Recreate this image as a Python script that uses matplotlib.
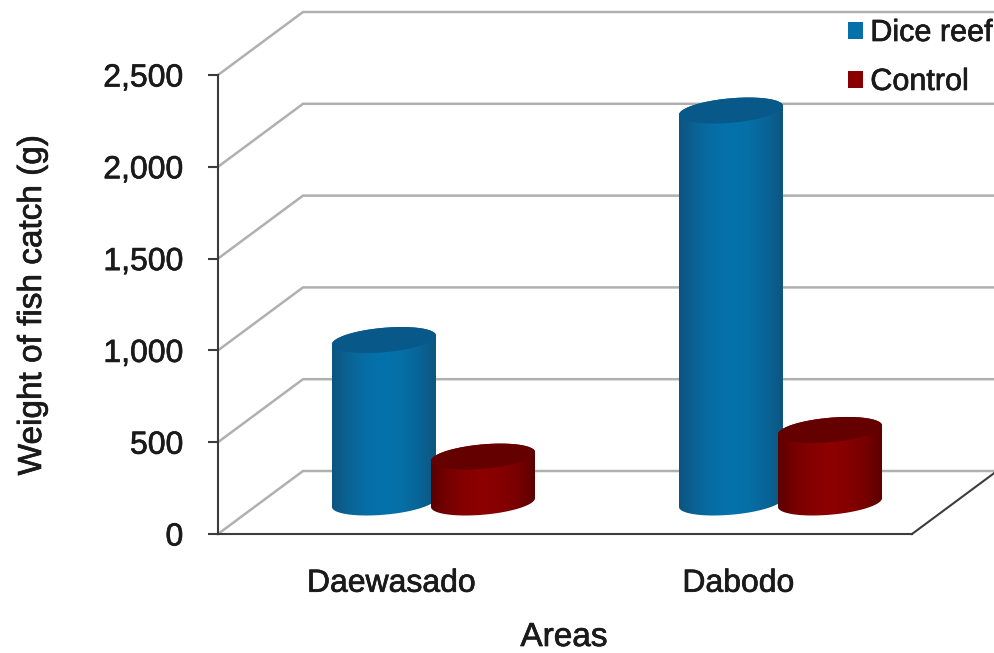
import matplotlib
matplotlib.use('Agg')
import matplotlib.pyplot as plt
import matplotlib.patheffects as pe
import numpy as np
from matplotlib.patches import Patch, Polygon
from matplotlib.ticker import FuncFormatter

areas = ['Daewasado', 'Dabodo']
dice_reef = [885, 2135]
control = [250, 395]
y_ticks = [0, 500, 1000, 1500, 2000, 2500]

# layout in pixels of the 995x653 canvas
W, H = 995, 653
X0, CAT_W = 218, 347
Y0, PX_PER_UNIT = 534, 0.1836
DEPTH_X, DEPTH_Y = 85, 63

plt.rcParams['font.family'] = ['Liberation Sans', 'DejaVu Sans']

fig = plt.figure(figsize=(W / 100, H / 100), dpi=100)
ax = fig.add_axes([0, 0, 1, 1])


def px_x(n):
    return n / CAT_W


def px_y(n):
    return n / PX_PER_UNIT


def ellipse(cx, cy, t):
    # circle on the oblique floor plane
    a, dz = 49, 13
    x = cx + px_x(a * np.cos(t) + dz * DEPTH_X / DEPTH_Y * np.sin(t))
    y = cy + px_y(dz * np.sin(t))
    return x, y


def cylinder(cx, value, side_colors, top_color):
    base = px_y(DEPTH_Y / 2)
    half = px_x(52)

    # left and right silhouette points of the ellipse
    t_edge = np.arctan2(13 * DEPTH_X / DEPTH_Y, 49)
    t_low = np.linspace(t_edge + np.pi, t_edge + 2 * np.pi, 60)
    t_up = np.linspace(t_edge, t_edge + np.pi, 60)
    xb, yb = ellipse(cx, base, t_low)
    xt, yt = ellipse(cx, base + value, t_up)
    side = Polygon(np.column_stack([np.r_[xb, xt], np.r_[yb, yt]]),
                   closed=True, facecolor='none', edgecolor='none')
    ax.add_patch(side)

    # horizontal shading across the curved side
    cmap = matplotlib.colors.LinearSegmentedColormap.from_list('shade', side_colors)
    grad = np.linspace(0, 1, 256).reshape(1, -1)
    im = ax.imshow(grad, cmap=cmap, aspect='auto', zorder=3,
                   extent=[cx - half, cx + half, base - px_y(20), base + value + px_y(20)])
    im.set_clip_path(side)

    xc, yc = ellipse(cx, base + value, np.linspace(0, 2 * np.pi, 120))
    ax.fill(xc, yc, color=top_color, lw=0, zorder=4)


# back wall and side wall gridlines
for v in y_ticks:
    ax.plot([0, px_x(DEPTH_X), 2 + px_x(DEPTH_X)],
            [v, v + px_y(DEPTH_Y), v + px_y(DEPTH_Y)],
            color='#b0b0b0', lw=1.8, zorder=1, solid_joinstyle='miter')

# front right edge of the floor
ax.plot([2, 2 + px_x(DEPTH_X)], [0, px_y(DEPTH_Y)], color='#3c3c3c', lw=1.5, zorder=2)

blue_side = ['#0d5480', '#0a6496', '#066ea6', '#0572ab', '#066fa6', '#086598', '#0d567f']
red_side = ['#5a0000', '#780000', '#860000', '#8e0000', '#860000', '#780000', '#5c0000']
bar_offset = (px_x(384 - X0) - 0.5, px_x(483 - X0) - 0.5)

for i in range(len(areas)):
    cylinder(i + 0.5 + bar_offset[0], dice_reef[i], blue_side, '#08588a')
    cylinder(i + 0.5 + bar_offset[1], control[i], red_side, '#650000')

ax.set_xlim(-X0 / CAT_W, (W - X0) / CAT_W)
ax.set_ylim(-(H - Y0) / PX_PER_UNIT, Y0 / PX_PER_UNIT)

for name in ['top', 'right']:
    ax.spines[name].set_visible(False)
ax.patch.set_visible(False)
ax.spines['left'].set_position(('data', 0))
ax.spines['left'].set_bounds(0, 2500)
ax.spines['bottom'].set_position(('data', 0))
ax.spines['bottom'].set_bounds(0, 2)
for name in ['left', 'bottom']:
    ax.spines[name].set_color('#3c3c3c')
    ax.spines[name].set_linewidth(1.5)

ax.set_yticks(y_ticks)
ax.yaxis.set_major_formatter(FuncFormatter(lambda v, p: f'{int(v):,}'))
ax.tick_params(axis='y', length=7, width=1.5, color='#3c3c3c', pad=18,
               labelsize=23, labelcolor='#1a1a1a')
ax.set_xticks([0.5, 1.5])
ax.set_xticklabels(areas)
ax.tick_params(axis='x', length=0, pad=25, labelsize=23, labelcolor='#1a1a1a')

ax.set_xlabel('Areas', fontsize=24, color='#1a1a1a')
ax.xaxis.set_label_coords(564 / W, 1 - 622 / H)
ax.set_ylabel('Weight of fish catch (g)', fontsize=24, color='#1a1a1a')
ax.yaxis.set_label_coords(48 / W, 1 - 305 / H)

handles = [Patch(facecolor='#0570aa', label='Dice reef'),
           Patch(facecolor='#8a0000', label='Control')]
legend = ax.legend(handles=handles, loc='upper left', bbox_to_anchor=(848 / W, 1 - 18 / H),
                   frameon=False, fontsize=22, handlelength=0.48, handleheight=0.48,
                   handletextpad=0.25, labelspacing=0.62, borderpad=0, borderaxespad=0,
                   labelcolor='#1a1a1a')

# slightly heavier strokes on all the lettering
thicken = [pe.withStroke(linewidth=0.5, foreground='#1a1a1a')]
labels = ax.get_xticklabels() + ax.get_yticklabels() + legend.get_texts()
for txt in labels + [ax.xaxis.label, ax.yaxis.label]:
    txt.set_path_effects(thicken)

fig.savefig('out.png', dpi=100)
plt.close(fig)
